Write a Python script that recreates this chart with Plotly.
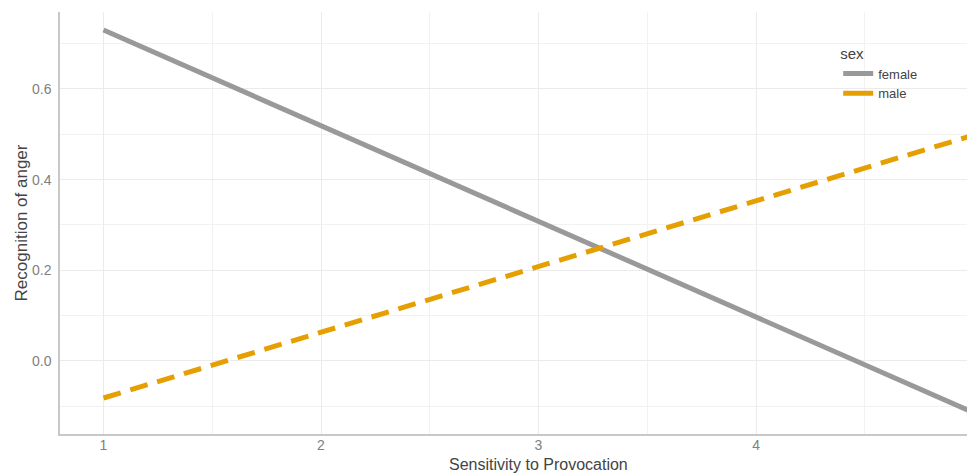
import plotly.graph_objects as go

x_vals = [1, 5]
female = [0.730, -0.114]
male = [-0.0816, 0.498]
x_ticks = [1, 2, 3, 4]
y_ticks = [0.0, 0.2, 0.4, 0.6]
y_tick_labels = ["0.0", "0.2", "0.4", "0.6"]
x_title = "Sensitivity to Provocation"
y_title = "Recognition of anger"

GRAY = "#999999"
ORANGE = "#E69F00"

fig = go.Figure()
fig.add_trace(go.Scatter(x=x_vals, y=female, mode="lines", name="female", showlegend=False,
                         line=dict(color=GRAY, width=5)))
fig.add_trace(go.Scatter(x=x_vals, y=male, mode="lines", name="male", showlegend=False,
                         line=dict(color=ORANGE, width=5, dash="18px,10px")))
# legend keys (solid, as in reference)
fig.add_trace(go.Scatter(x=[None], y=[None], mode="lines", name="female",
                         line=dict(color=GRAY, width=5)))
fig.add_trace(go.Scatter(x=[None], y=[None], mode="lines", name="male",
                         line=dict(color=ORANGE, width=5)))

grid = "#ebebeb"
fig.update_layout(
    width=969, height=474,
    margin=dict(l=60, r=2, t=12, b=40),
    paper_bgcolor="white", plot_bgcolor="white",
    font=dict(family="Liberation Sans, Arial, sans-serif", color="#444444"),
    legend=dict(x=0.858, y=0.936, xanchor="left", yanchor="top",
                title=dict(text="sex", font=dict(size=15, color="#444444")),
                font=dict(size=13, color="#444444"), bgcolor="rgba(0,0,0,0)",
                tracegroupgap=0, itemwidth=30),
    xaxis=dict(range=[0.8, 4.97], tickvals=x_ticks, ticktext=[str(v) for v in x_ticks],
               showgrid=True, gridcolor=grid, gridwidth=1.2, zeroline=False,
               showline=True, linecolor="#c8c8c8", linewidth=1.5,
               ticks="", tickfont=dict(size=14, color="#808080"),
               ticklabelstandoff=-3,
               automargin=False,
               minor=dict(dtick=0.5, tick0=0.5, showgrid=True, gridcolor="#f2f2f2", gridwidth=1)),
    yaxis=dict(range=[-0.161, 0.7696], tickvals=y_ticks, ticktext=y_tick_labels,
               showgrid=True, gridcolor=grid, gridwidth=1.2, zeroline=False,
               showline=True, linecolor="#c8c8c8", linewidth=1.5,
               ticks="outside", ticklen=4, tickcolor="rgba(0,0,0,0)",
               tickfont=dict(size=14, color="#808080"),
               automargin=False,
               minor=dict(dtick=0.1, tick0=0.1, showgrid=True, gridcolor="#f2f2f2", gridwidth=1),
               title=dict(text=y_title, font=dict(size=17, color="#444444"), standoff=0)),
    annotations=[dict(text=x_title, xref="x", x=3, yref="paper", y=0, yshift=-20,
                      yanchor="top", showarrow=False,
                      font=dict(size=16, color="#444444"))],
)
fig.write_html("out.html", config={"displayModeBar": False},
               post_script="document.body.style.margin='0';document.body.style.overflow='hidden';")
